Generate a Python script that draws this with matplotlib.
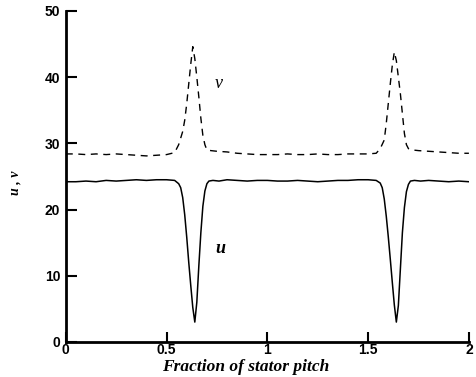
import matplotlib.pyplot as plt

# values
u_x = [0, 0.05, 0.1, 0.15, 0.2, 0.25, 0.3, 0.35, 0.4, 0.45, 0.5, 0.54, 0.56, 0.57,
       0.58, 0.59, 0.6, 0.61, 0.62, 0.63, 0.64, 0.65, 0.66, 0.67, 0.68, 0.69, 0.7,
       0.71, 0.73, 0.76, 0.8, 0.85, 0.9, 0.95, 1.0, 1.05, 1.1, 1.15, 1.2, 1.25, 1.3,
       1.35, 1.4, 1.45, 1.5, 1.54, 1.56, 1.57, 1.58, 1.59, 1.6, 1.61, 1.62, 1.63,
       1.64, 1.65, 1.66, 1.67, 1.68, 1.69, 1.7, 1.71, 1.73, 1.76, 1.8, 1.85, 1.9,
       1.95, 2.0]
u = [24.2, 24.2, 24.3, 24.2, 24.4, 24.3, 24.4, 24.5, 24.4, 24.5, 24.5, 24.4, 23.9, 23.3,
     21.8, 19.2, 15.8, 12.0, 8.5, 5.2, 3.0, 6.0, 11.5, 16.5, 20.5, 22.8, 23.9,
     24.3, 24.4, 24.3, 24.5, 24.4, 24.3, 24.4, 24.4, 24.3, 24.3, 24.4, 24.3, 24.2, 24.3,
     24.4, 24.4, 24.5, 24.5, 24.4, 24.0, 23.3, 21.6, 19.0, 15.9, 12.5, 9.0, 5.6,
     3.0, 5.5, 11.0, 16.5, 20.3, 22.7, 23.8, 24.3, 24.4, 24.3, 24.4, 24.3, 24.2,
     24.3, 24.2]

v_x = [0, 0.05, 0.1, 0.15, 0.2, 0.25, 0.3, 0.35, 0.4, 0.45, 0.5, 0.54, 0.56, 0.58,
       0.59, 0.6, 0.61, 0.62, 0.63, 0.64, 0.65, 0.66, 0.67, 0.68, 0.69, 0.7, 0.72,
       0.75, 0.8, 0.85, 0.9, 0.95, 1.0, 1.05, 1.1, 1.15, 1.2, 1.25, 1.3, 1.35, 1.4,
       1.45, 1.5, 1.54, 1.56, 1.58, 1.59, 1.6, 1.61, 1.62, 1.63, 1.64, 1.65, 1.66,
       1.67, 1.68, 1.69, 1.7, 1.72, 1.75, 1.8, 1.85, 1.9, 1.95, 2.0]
v = [28.4, 28.4, 28.3, 28.4, 28.3, 28.4, 28.3, 28.2, 28.1, 28.2, 28.3, 28.6, 29.8, 31.8,
     33.5, 36.0, 39.0, 42.0, 44.6, 42.8, 40.0, 37.0, 33.8, 31.2, 29.8, 29.0, 28.9,
     28.8, 28.7, 28.5, 28.4, 28.3, 28.3, 28.3, 28.4, 28.3, 28.3, 28.4, 28.3, 28.3, 28.4,
     28.4, 28.4, 28.5, 29.2, 30.5, 33.0, 36.0, 39.0, 41.8, 43.8, 42.5, 40.0, 37.5,
     34.5, 31.5, 29.8, 29.2, 29.0, 28.9, 28.8, 28.7, 28.6, 28.5, 28.5]

x_ticks = [0, 0.5, 1, 1.5, 2]
x_labels = ['0', '0.5', '1', '1.5', '2']
y_ticks = [0, 10, 20, 30, 40, 50]

fig = plt.figure(figsize=(4.77, 3.77), dpi=100)
ax = fig.add_axes([0.138, 0.093, 0.845, 0.878])

ax.plot(u_x, u, color='black', lw=1.1)
ax.plot(v_x, v, color='black', lw=1.0, dashes=(5, 4))

ax.set_xlim(0, 2)
ax.set_ylim(0, 50)
ax.set_xticks(x_ticks)
ax.set_xticklabels(x_labels)
ax.set_yticks(y_ticks)

for s in ['top', 'right']:
    ax.spines[s].set_visible(False)
for s in ['left', 'bottom']:
    ax.spines[s].set_linewidth(2)

ax.tick_params(axis='y', direction='in', length=8, width=1.5, pad=4, labelsize=10)
ax.tick_params(axis='x', direction='in', length=7, width=1.5, pad=1, labelsize=10)
for lab in ax.get_xticklabels() + ax.get_yticklabels():
    lab.set_fontfamily('Liberation Sans')
    lab.set_fontweight('bold')

serif = dict(family='Liberation Serif', style='italic')
ax.text(0.74, 38.4, 'v', fontsize=13, **serif)
ax.text(0.74, 13.4, 'u', fontsize=13, fontweight='bold', **serif)
fig.text(246 / 477, 1 - 367 / 377, 'Fraction of stator pitch', fontsize=12.5,
         fontweight='bold', ha='center', va='center', **serif)
fig.text(0.031, 0.515, 'u , v', rotation=90, fontsize=10, ha='center', va='center',
         fontweight='bold', **serif)

plt.savefig('out.png')
plt.close()
